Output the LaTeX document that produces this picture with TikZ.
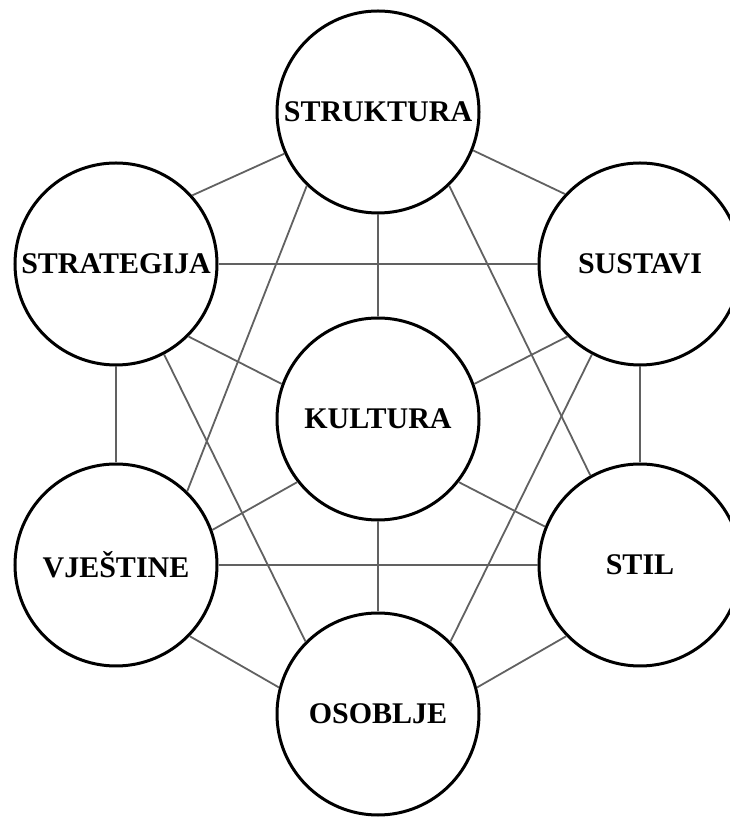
\documentclass[tikz,border=0pt]{standalone}
\usepackage{fontspec}
\setmainfont{Liberation Serif}
\usepackage{tikz}
\usetikzlibrary{positioning}

\begin{document}
\begin{tikzpicture}[x=1pt,y=1pt,
  org/.style={circle,draw=black,line width=3pt,fill=white,minimum size=202pt,inner sep=0pt,
              font=\fontsize{30}{36}\selectfont\bfseries},
  link/.style={draw=black!62,line width=1.8pt}]
\useasboundingbox (0,0) rectangle (730,819);
\clip (0,0) rectangle (730,819);
% the seven elements: a hexagon round the culture
\foreach \n/\x/\y/\t in {strukt/378/707/STRUKTURA, strat/116/555/STRATEGIJA, sust/640/555/SUSTAVI,
                         kult/378/400/KULTURA, vjes/116/254/VJEŠTINE, stil/640/254/STIL, osob/378/105/OSOBLJE}{
  \node[org] (\n) at (\x,\y) {\t};}
% verticals and horizontals
\foreach \a/\b in {strukt.south/kult.north, kult.south/osob.north, strat.south/vjes.north,
                   sust.south/stil.north, strat.east/sust.west, vjes.east/stil.west}{
  \draw[link] (\a) -- (\b);}
% the slanted ones
\foreach \a/\b in {strat.42/strukt.204, strukt.338/sust.137, strat.315/kult.160, sust.225/kult.20,
                   vjes.20/kult.218, stil.158/kult.322, strat.298/osob.135, sust.242/osob.45,
                   strukt.226/vjes.46, strukt.314/stil.119, vjes.316/osob.165, stil.224/osob.15}{
  \draw[link] (\a) -- (\b);}
\end{tikzpicture}
\end{document}
